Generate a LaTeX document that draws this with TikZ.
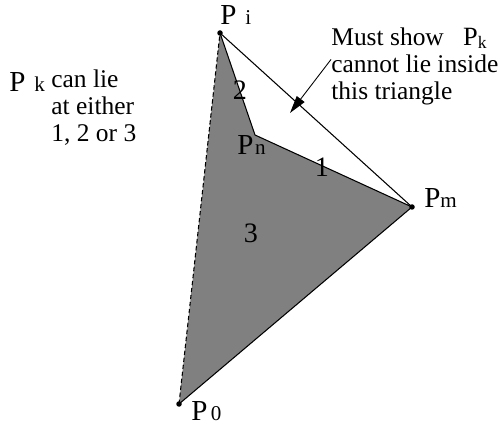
\documentclass[tikz,border=0pt]{standalone}
\usepackage{fontspec}
\setmainfont{Liberation Serif}
\usetikzlibrary{arrows.meta}
\definecolor{hullgray}{RGB}{128,128,128}
\newcommand{\pname}[2]{{\fontsize{16.5}{16.5}\selectfont P}\hspace{#1}{\fontsize{12}{12}\selectfont #2}}
\tikzset{
    hulledge/.style={draw=black, line width=0.6pt},
    hulldash/.style={draw=black, line width=0.6pt, dash pattern=on 2.5pt off 1.5pt},
    hulllabel/.style={anchor=base west, inner sep=0pt},
    hullnum/.style={anchor=base, inner sep=0pt, font=\fontsize{16}{16}\selectfont},
    hullnote/.style={anchor=base west, align=left, inner sep=0pt, font=\fontsize{14.5}{15.6}\selectfont},
    hullarrow/.style={-{Triangle[length=10pt, width=5.5pt]}, line width=0.5pt}
}

\begin{document}
\begin{tikzpicture}[x=0.02cm, y=-0.02cm]
\useasboundingbox (0,0) rectangle (500,425);

\coordinate (pi) at (220,33);
\coordinate (pn) at (255,135);
\coordinate (pm) at (412,207);
\coordinate (p0) at (179,404);

\fill[hullgray] (pi) -- (pn) -- (pm) -- (p0) -- cycle;
\draw[hulledge] (pi) -- (pn) -- (pm) -- (p0);
\draw[hulldash] (p0) -- (pi);
\draw[hulledge] (pi) -- (pm);
\foreach \v in {pi, pm, p0}
    \fill (\v) circle[radius=0.055cm];

\node[hulllabel] (lbli) at (220,25) {\pname{5pt}{i}};
\node[hulllabel] (lbln) at (237,155) {\pname{1pt}{n}};
\node[hulllabel] (lblm) at (424,208) {\pname{0pt}{m}};
\node[hulllabel] (lbl0) at (191,420) {\pname{2pt}{0}};

\node[hullnum] (reg1) at (322,177) {1};
\node[hullnum] (reg2) at (240,100) {2};
\node[hullnum] (reg3) at (251,243) {3};

\node[hulllabel] (lblk) at (9,92) {\pname{5pt}{k}};
\node[hullnote] (lie) at (51,142) {can lie\\at either\\1, 2 or 3};

\node[hullnote] (note) at (331,100) {Must show\hspace{11pt}{\fontsize{15}{15}\selectfont P}\raisebox{-2pt}{\fontsize{10}{10}\selectfont k}\\cannot lie inside\\this triangle};
\coordinate (tip) at (290,113);
\draw[hullarrow] ([yshift=4pt]note.west) -- (tip);

\end{tikzpicture}
\end{document}
